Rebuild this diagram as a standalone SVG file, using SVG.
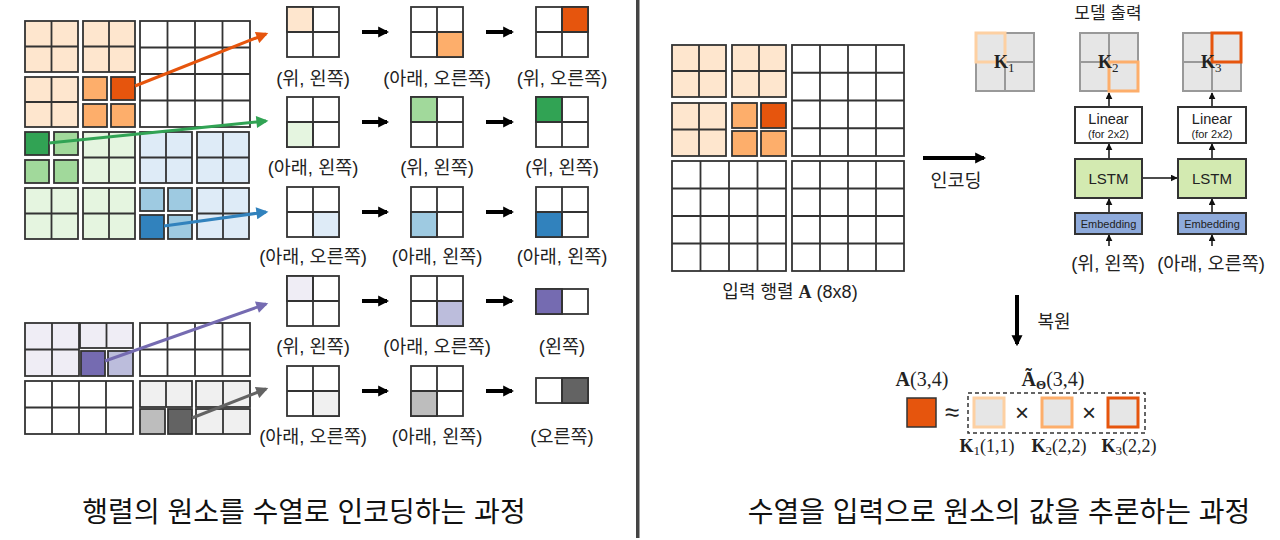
<svg xmlns="http://www.w3.org/2000/svg" width="1280" height="540" viewBox="0 0 1280 540">
<style>
.g rect{stroke:#333;stroke-width:1.8}
.g path{stroke:#333;stroke-width:1.8;fill:none}
.w{fill:#fff}
.o1{fill:#fee6ce}.o2{fill:#fdae6b}.o3{fill:#e6550d}
.g1{fill:#e5f5e0}.g2{fill:#a1d99b}.g3{fill:#31a354}
.b1{fill:#deebf7}.b2{fill:#9ecae1}.b3{fill:#3182bd}
.p1{fill:#efedf5}.p2{fill:#bcbddc}.p3{fill:#756bb1}
.k1{fill:#f0f0f0}.k2{fill:#bdbdbd}.k3{fill:#636363}
text{font-family:"Liberation Sans","Noto Sans CJK KR",sans-serif;fill:#222}
.lab{font-size:18.5px;text-anchor:middle}
.c{text-anchor:middle}
.title{font-size:28px;text-anchor:middle;fill:#111}
.m{font-family:"Liberation Serif","DejaVu Serif",serif}
.kg rect{fill:#e6e6e6;stroke:#999;stroke-width:2}
.kg path{stroke:#999;stroke-width:2;fill:none}
.box{stroke:#333;stroke-width:2}
.thin{stroke:#111;stroke-width:1.5;fill:none}
.thick{stroke:#000;stroke-width:4;fill:none}
</style>
<defs>
<marker id="mo" viewBox="0 0 10 10" refX="8" refY="5" markerWidth="14" markerHeight="12" markerUnits="userSpaceOnUse" orient="auto"><path d="M0 0L10 5L0 10z" fill="#e6550d"/></marker>
<marker id="mg" viewBox="0 0 10 10" refX="8" refY="5" markerWidth="14" markerHeight="12" markerUnits="userSpaceOnUse" orient="auto"><path d="M0 0L10 5L0 10z" fill="#31a354"/></marker>
<marker id="mb" viewBox="0 0 10 10" refX="8" refY="5" markerWidth="14" markerHeight="12" markerUnits="userSpaceOnUse" orient="auto"><path d="M0 0L10 5L0 10z" fill="#3182bd"/></marker>
<marker id="mp" viewBox="0 0 10 10" refX="8" refY="5" markerWidth="14" markerHeight="12" markerUnits="userSpaceOnUse" orient="auto"><path d="M0 0L10 5L0 10z" fill="#756bb1"/></marker>
<marker id="mk" viewBox="0 0 10 10" refX="8" refY="5" markerWidth="14" markerHeight="12" markerUnits="userSpaceOnUse" orient="auto"><path d="M0 0L10 5L0 10z" fill="#636363"/></marker>
<marker id="mB" viewBox="0 0 10 10" refX="8" refY="5" markerWidth="11" markerHeight="13" markerUnits="userSpaceOnUse" orient="auto"><path d="M0 0L10 5L0 10z" fill="#000"/></marker>
<marker id="mt" viewBox="0 0 10 10" refX="9" refY="5" markerWidth="7" markerHeight="7" markerUnits="userSpaceOnUse" orient="auto"><path d="M0 0L10 5L0 10z" fill="#111"/></marker>
</defs>

<!-- LEFT: top matrix -->
<g id="left-matrix-top" class="g">
<rect class="o1" x="25" y="21" width="53" height="51"/><path d="M51.5 21V72M25 46.5H78"/>
<rect class="o1" x="83" y="21" width="52" height="51"/><path d="M109 21V72M83 46.5H135"/>
<rect class="o1" x="25" y="77" width="53" height="50"/><path d="M51.5 77V127M25 102H78"/>
<rect class="o2" x="83" y="77" width="24" height="23"/><rect class="o3" x="111" y="77" width="24" height="23"/>
<rect class="o2" x="83" y="104" width="24" height="23"/><rect class="o2" x="111" y="104" width="24" height="23"/>
<rect class="w" x="140" y="21" width="110" height="106"/><path d="M167.5 21V127M195 21V127M222.5 21V127M140 47.5H250M140 74H250M140 100.5H250"/>
<rect class="g3" x="25" y="132" width="24" height="23"/><rect class="g2" x="54" y="132" width="24" height="23"/>
<rect class="g2" x="25" y="160" width="24" height="23"/><rect class="g2" x="54" y="160" width="24" height="23"/>
<rect class="g1" x="83" y="132" width="52" height="51"/><path d="M109 132V183M83 157.5H135"/>
<rect class="g1" x="25" y="188" width="53" height="51"/><path d="M51.5 188V239M25 213.5H78"/>
<rect class="g1" x="83" y="188" width="52" height="51"/><path d="M109 188V239M83 213.5H135"/>
<rect class="b1" x="140" y="132" width="52" height="51"/><path d="M166 132V183M140 157.5H192"/>
<rect class="b1" x="197" y="132" width="52" height="51"/><path d="M223 132V183M197 157.5H249"/>
<rect class="b2" x="140" y="188" width="24" height="23"/><rect class="b2" x="168" y="188" width="24" height="23"/>
<rect class="b3" x="140" y="215" width="24" height="24"/><rect class="b2" x="168" y="215" width="24" height="24"/>
<rect class="b1" x="197" y="188" width="52" height="51"/><path d="M223 188V239M197 213.5H249"/>
</g>

<!-- LEFT: bottom matrix -->
<g id="left-matrix-bottom" class="g">
<rect class="p1" x="25" y="323" width="54" height="53"/><path d="M52 323V376M25 349.5H79"/>
<rect class="p1" x="80" y="323" width="53" height="25"/><path d="M106.5 323V348"/>
<rect class="p3" x="81" y="351" width="24" height="25"/><rect class="p2" x="108" y="351" width="25" height="25"/>
<rect class="w" x="140" y="323" width="110" height="53"/><path d="M167.5 323V376M195 323V376M222.5 323V376M140 349.5H250"/>
<rect class="w" x="25" y="381" width="108" height="53"/><path d="M52 381V434M79 381V434M106 381V434M25 407.5H133"/>
<rect class="k1" x="140" y="381" width="52" height="26"/><path d="M166 381V407"/>
<rect class="k1" x="196" y="381" width="54" height="26"/><path d="M223 381V407"/>
<rect class="k2" x="140" y="409" width="25" height="25"/><rect class="k3" x="168" y="409" width="24" height="25"/>
<rect class="k1" x="196" y="409" width="54" height="25"/><path d="M223 409V434"/>
</g>

<!-- LEFT: sequence rows -->
<g id="row1" class="g">
<rect class="w" x="287" y="7" width="52" height="50"/><rect class="o1" x="287" y="7" width="26" height="25"/><path d="M313 7V57M287 32H339"/>
<rect class="w" x="411" y="7" width="52" height="50"/><rect class="o2" x="437" y="32" width="26" height="25"/><path d="M437 7V57M411 32H463"/>
<rect class="w" x="536" y="7" width="52" height="50"/><rect class="o3" x="562" y="7" width="26" height="25"/><path d="M562 7V57M536 32H588"/>
</g>
<g id="row2" class="g">
<rect class="w" x="287" y="97" width="52" height="50"/><rect class="g1" x="287" y="122" width="26" height="25"/><path d="M313 97V147M287 122H339"/>
<rect class="w" x="411" y="97" width="52" height="50"/><rect class="g2" x="411" y="97" width="26" height="25"/><path d="M437 97V147M411 122H463"/>
<rect class="w" x="536" y="97" width="52" height="50"/><rect class="g3" x="536" y="97" width="26" height="25"/><path d="M562 97V147M536 122H588"/>
</g>
<g id="row3" class="g">
<rect class="w" x="287" y="187" width="52" height="50"/><rect class="b1" x="313" y="212" width="26" height="25"/><path d="M313 187V237M287 212H339"/>
<rect class="w" x="411" y="187" width="52" height="50"/><rect class="b2" x="411" y="212" width="26" height="25"/><path d="M437 187V237M411 212H463"/>
<rect class="w" x="536" y="187" width="52" height="50"/><rect class="b3" x="536" y="212" width="26" height="25"/><path d="M562 187V237M536 212H588"/>
</g>
<g id="row4" class="g">
<rect class="w" x="287" y="276" width="52" height="50"/><rect class="p1" x="287" y="276" width="26" height="25"/><path d="M313 276V326M287 301H339"/>
<rect class="w" x="411" y="276" width="52" height="50"/><rect class="p2" x="437" y="301" width="26" height="25"/><path d="M437 276V326M411 301H463"/>
<rect class="w" x="536" y="289" width="52" height="25"/><rect class="p3" x="536" y="289" width="26" height="25"/><path d="M562 289V314"/>
</g>
<g id="row5" class="g">
<rect class="w" x="287" y="366" width="52" height="50"/><rect class="k1" x="313" y="391" width="26" height="25"/><path d="M313 366V416M287 391H339"/>
<rect class="w" x="411" y="366" width="52" height="50"/><rect class="k2" x="411" y="391" width="26" height="25"/><path d="M437 366V416M411 391H463"/>
<rect class="w" x="536" y="378" width="52" height="25"/><rect class="k3" x="562" y="378" width="26" height="25"/><path d="M562 378V403"/>
</g>

<g id="row-labels">
<text class="lab" x="313" y="85">(위, 왼쪽)</text><text class="lab" x="437" y="85">(아래, 오른쪽)</text><text class="lab" x="562" y="85">(위, 오른쪽)</text>
<text class="lab" x="313" y="174">(아래, 왼쪽)</text><text class="lab" x="437" y="174">(위, 왼쪽)</text><text class="lab" x="562" y="174">(위, 왼쪽)</text>
<text class="lab" x="313" y="263">(아래, 오른쪽)</text><text class="lab" x="437" y="263">(아래, 왼쪽)</text><text class="lab" x="562" y="263">(아래, 왼쪽)</text>
<text class="lab" x="313" y="353">(위, 왼쪽)</text><text class="lab" x="437" y="353">(아래, 오른쪽)</text><text class="lab" x="562" y="353">(왼쪽)</text>
<text class="lab" x="313" y="443">(아래, 오른쪽)</text><text class="lab" x="437" y="443">(아래, 왼쪽)</text><text class="lab" x="562" y="443">(오른쪽)</text>
</g>

<g id="connectors">
<line x1="135" y1="86" x2="266" y2="34" stroke="#e6550d" stroke-width="3" marker-end="url(#mo)"/>
<line x1="49" y1="143" x2="266" y2="121" stroke="#31a354" stroke-width="3" marker-end="url(#mg)"/>
<line x1="164" y1="226" x2="266" y2="212" stroke="#3182bd" stroke-width="3" marker-end="url(#mb)"/>
<line x1="105" y1="361" x2="266" y2="304" stroke="#756bb1" stroke-width="3" marker-end="url(#mp)"/>
<line x1="192" y1="418" x2="266" y2="389" stroke="#636363" stroke-width="3" marker-end="url(#mk)"/>
<g class="thick">
<line x1="362" y1="32" x2="387" y2="32" marker-end="url(#mB)"/><line x1="486" y1="32" x2="512" y2="32" marker-end="url(#mB)"/>
<line x1="362" y1="122" x2="387" y2="122" marker-end="url(#mB)"/><line x1="486" y1="122" x2="512" y2="122" marker-end="url(#mB)"/>
<line x1="362" y1="212" x2="387" y2="212" marker-end="url(#mB)"/><line x1="486" y1="212" x2="512" y2="212" marker-end="url(#mB)"/>
<line x1="362" y1="301" x2="387" y2="301" marker-end="url(#mB)"/><line x1="486" y1="301" x2="512" y2="301" marker-end="url(#mB)"/>
<line x1="362" y1="391" x2="387" y2="391" marker-end="url(#mB)"/><line x1="486" y1="391" x2="512" y2="391" marker-end="url(#mB)"/>
<line x1="923" y1="158" x2="984" y2="158" marker-end="url(#mB)"/>
<line x1="1017" y1="295" x2="1017" y2="344" marker-end="url(#mB)"/>
</g>
<g class="thin">
<line x1="1109" y1="246" x2="1109" y2="235" marker-end="url(#mt)"/><line x1="1212" y1="246" x2="1212" y2="235" marker-end="url(#mt)"/>
<line x1="1109" y1="213" x2="1109" y2="199" marker-end="url(#mt)"/><line x1="1212" y1="213" x2="1212" y2="199" marker-end="url(#mt)"/>
<line x1="1109" y1="159" x2="1109" y2="144" marker-end="url(#mt)"/><line x1="1212" y1="159" x2="1212" y2="144" marker-end="url(#mt)"/>
<line x1="1109" y1="107" x2="1109" y2="93" marker-end="url(#mt)"/><line x1="1212" y1="107" x2="1212" y2="93" marker-end="url(#mt)"/>
<line x1="1142" y1="178" x2="1177" y2="178" marker-end="url(#mt)"/>
</g>
</g>

<rect id="divider" x="636" y="0" width="3.5" height="538" fill="#444"/>

<!-- RIGHT: input matrix -->
<g id="input-matrix" class="g">
<rect class="o1" x="672" y="45" width="54" height="52"/><path d="M699 45V97M672 71H726"/>
<rect class="o1" x="732" y="45" width="54" height="52"/><path d="M759 45V97M732 71H786"/>
<rect class="o1" x="672" y="103" width="54" height="53"/><path d="M699 103V156M672 129.5H726"/>
<rect class="o2" x="732" y="103" width="25" height="25"/><rect class="o3" x="761" y="103" width="25" height="25"/>
<rect class="o2" x="732" y="131" width="25" height="25"/><rect class="o2" x="761" y="131" width="25" height="25"/>
<rect class="w" x="792" y="45" width="112" height="111"/><path d="M820 45V156M848 45V156M876 45V156M792 72.75H904M792 100.5H904M792 128.25H904"/>
<rect class="w" x="672" y="161" width="114" height="110"/><path d="M700.5 161V271M729 161V271M757.5 161V271M672 188.5H786M672 216H786M672 243.5H786"/>
<rect class="w" x="792" y="161" width="112" height="110"/><path d="M820 161V271M848 161V271M876 161V271M792 188.5H904M792 216H904M792 243.5H904"/>
</g>
<text class="c" x="790" y="298" style="font-size:18px">입력 행렬 <tspan class="m" font-weight="bold">A</tspan> (8x8)</text>
<text class="c" x="956" y="187" style="font-size:18.5px">인코딩</text>

<!-- RIGHT: model -->
<text class="c" x="1108" y="19" style="font-size:17px">모델 출력</text>
<g id="K1" class="kg">
<rect x="976" y="33" width="58" height="58"/><path d="M1005 33V91M976 62H1034"/>
<rect x="976" y="33" width="29" height="29" style="fill:none;stroke:#fdd0a2;stroke-width:3"/>
<text x="994" y="68" class="m" font-size="18" font-weight="bold">K<tspan font-weight="normal" font-size="13" dy="4">1</tspan></text>
</g>
<g id="K2" class="kg">
<rect x="1080" y="33" width="58" height="58"/><path d="M1109 33V91M1080 62H1138"/>
<rect x="1109" y="62" width="29" height="29" style="fill:none;stroke:#fdae6b;stroke-width:3"/>
<text x="1098" y="68" class="m" font-size="18" font-weight="bold">K<tspan font-weight="normal" font-size="13" dy="4">2</tspan></text>
</g>
<g id="K3" class="kg">
<rect x="1183" y="33" width="58" height="58"/><path d="M1212 33V91M1183 62H1241"/>
<rect x="1212" y="33" width="29" height="29" style="fill:none;stroke:#e6550d;stroke-width:3"/>
<text x="1201" y="68" class="m" font-size="18" font-weight="bold">K<tspan font-weight="normal" font-size="13" dy="4">3</tspan></text>
</g>
<g id="linear1"><rect class="box" x="1075" y="107" width="67" height="36" fill="#fff"/><text class="c" x="1108.5" y="124" style="font-size:14.5px">Linear</text><text class="c" x="1108.5" y="138" style="font-size:11px">(for 2x2)</text></g>
<g id="linear2"><rect class="box" x="1178" y="107" width="68" height="36" fill="#fff"/><text class="c" x="1212" y="124" style="font-size:14.5px">Linear</text><text class="c" x="1212" y="138" style="font-size:11px">(for 2x2)</text></g>
<g id="lstm1"><rect class="box" x="1075" y="159" width="67" height="39" fill="#d3eab1"/><text class="c" x="1108.5" y="184" style="font-size:15px">LSTM</text></g>
<g id="lstm2"><rect class="box" x="1178" y="159" width="68" height="39" fill="#d3eab1"/><text class="c" x="1212" y="184" style="font-size:15px">LSTM</text></g>
<g id="emb1"><rect class="box" x="1075" y="213" width="67" height="21" fill="#8eaadb"/><text class="c" x="1108.5" y="227.5" style="font-size:11px">Embedding</text></g>
<g id="emb2"><rect class="box" x="1178" y="213" width="68" height="21" fill="#8eaadb"/><text class="c" x="1212" y="227.5" style="font-size:11px">Embedding</text></g>
<text class="lab" x="1108" y="270">(위, 왼쪽)</text>
<text class="lab" x="1211" y="270">(아래, 오른쪽)</text>

<!-- RIGHT: recovery -->
<text class="c" x="1054" y="328" style="font-size:18px">복원</text>
<g id="formula">
<text class="m" x="922" y="386" font-size="20" text-anchor="middle"><tspan font-weight="bold">A</tspan>(3,4)</text>
<text class="m" x="1053" y="386" font-size="20" text-anchor="middle"><tspan font-weight="bold">Ã</tspan><tspan font-weight="bold" font-size="13" dy="3">Θ</tspan><tspan dy="-3">(3,4)</tspan></text>
<rect x="907" y="398" width="29" height="29" fill="#e6550d" stroke="#333" stroke-width="1.5"/>
<text x="952" y="421" font-size="26" text-anchor="middle">≈</text>
<rect x="968" y="393" width="177" height="40" fill="none" stroke="#333" stroke-width="1.5" stroke-dasharray="4 3"/>
<rect x="974" y="398" width="30" height="29" fill="#e6e6e6" stroke="#fdd0a2" stroke-width="3"/>
<text x="1022" y="421" font-size="24" text-anchor="middle">×</text>
<rect x="1042" y="398" width="30" height="29" fill="#e6e6e6" stroke="#fdae6b" stroke-width="3"/>
<text x="1089" y="421" font-size="24" text-anchor="middle">×</text>
<rect x="1108" y="398" width="30" height="29" fill="#e6e6e6" stroke="#e6550d" stroke-width="3"/>
<text class="m" x="987" y="452" font-size="18" text-anchor="middle"><tspan font-weight="bold">K</tspan><tspan font-size="13" dy="3">1</tspan><tspan dy="-3">(1,1)</tspan></text>
<text class="m" x="1059" y="452" font-size="18" text-anchor="middle"><tspan font-weight="bold">K</tspan><tspan font-size="13" dy="3">2</tspan><tspan dy="-3">(2,2)</tspan></text>
<text class="m" x="1129" y="452" font-size="18" text-anchor="middle"><tspan font-weight="bold">K</tspan><tspan font-size="13" dy="3">3</tspan><tspan dy="-3">(2,2)</tspan></text>
</g>

<text class="title" x="304" y="522">행렬의 원소를 수열로 인코딩하는 과정</text>
<text class="title" x="999" y="522">수열을 입력으로 원소의 값을 추론하는 과정</text>
</svg>
